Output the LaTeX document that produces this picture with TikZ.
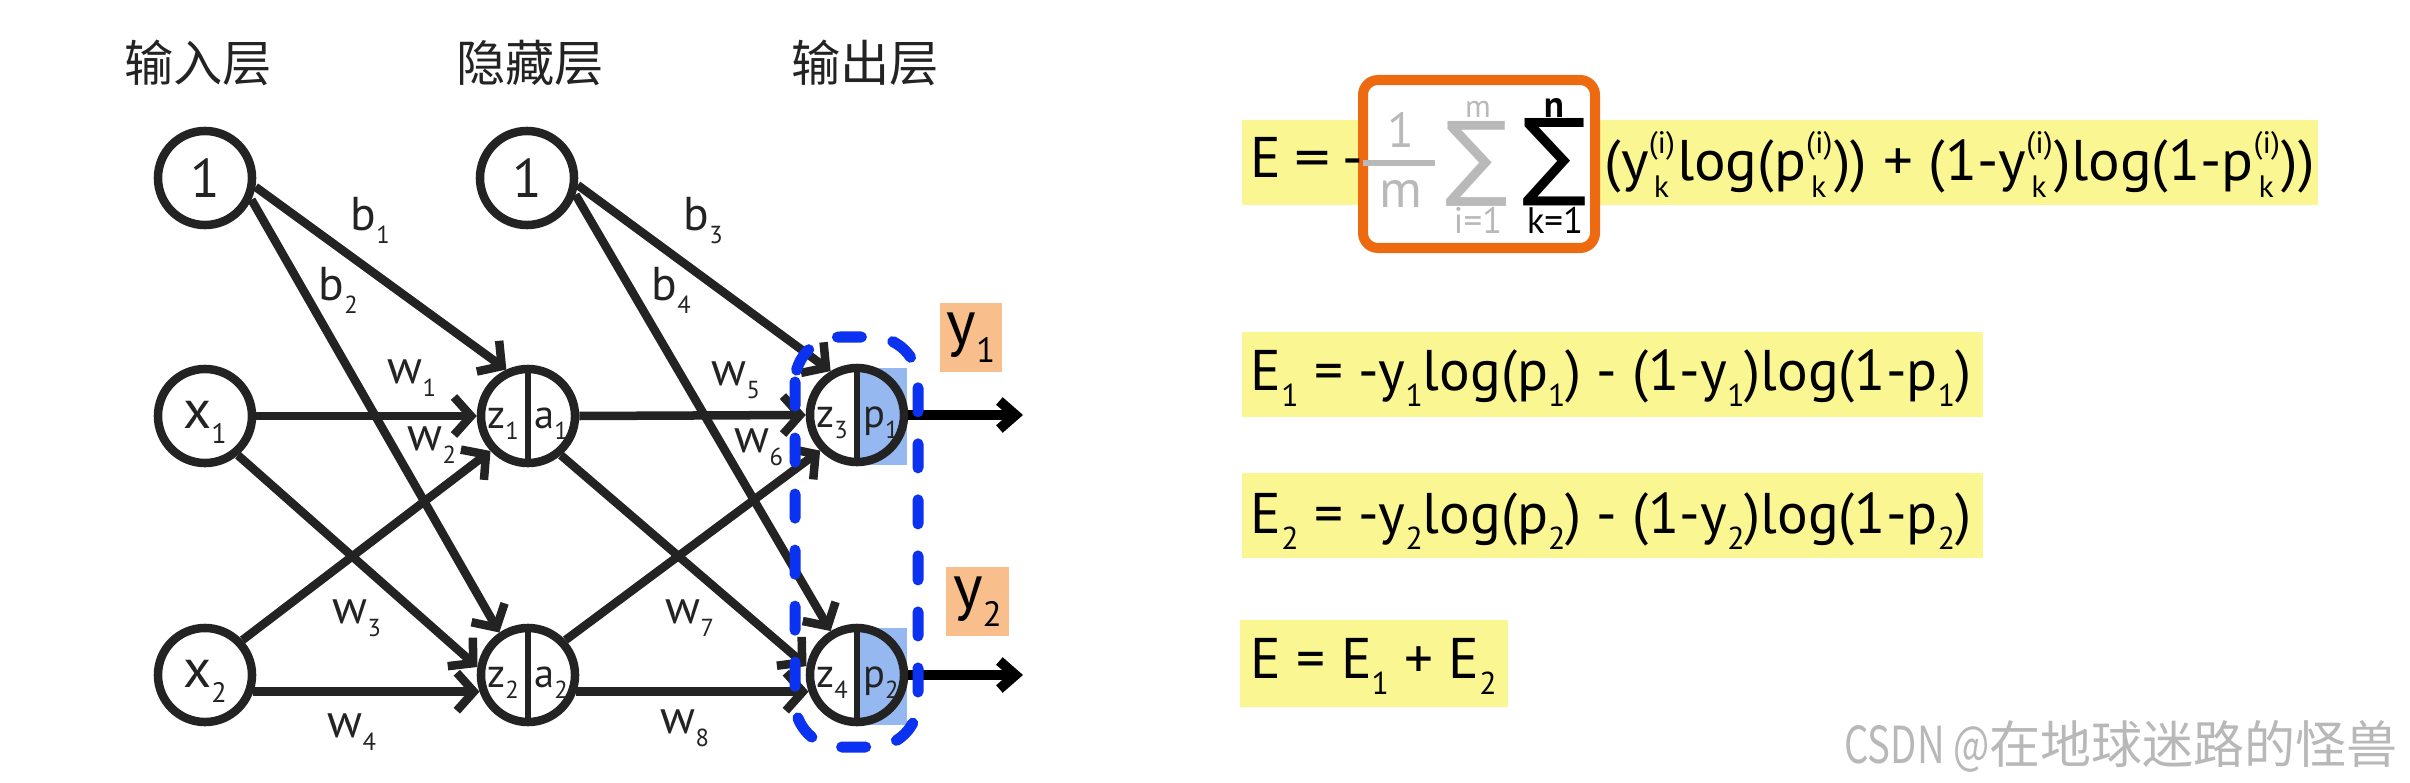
\documentclass[tikz,border=0pt]{standalone}
\usepackage{fontspec}
\setmainfont{PT Sans}
\newfontfamily\cjk{Noto Sans CJK SC}
\newfontfamily\djv{DejaVu Sans}
\usetikzlibrary{arrows.meta}
\definecolor{lc}{RGB}{35,35,35}
\definecolor{hl}{RGB}{250,246,145}
\definecolor{pblue}{RGB}{150,184,240}
\definecolor{dblue}{RGB}{10,50,240}
\definecolor{oran}{RGB}{238,106,16}
\definecolor{ylab}{RGB}{248,190,140}
\definecolor{lgray}{RGB}{185,185,185}
\newcommand{\fs}[1]{\fontsize{#1}{#1}\selectfont}
\newcommand{\el}[2]{{\fs{13.5}#1\raisebox{-3.8pt}{\fs{7}#2}}}
\newcommand{\nb}[2]{{\fs{15.5}#1\raisebox{-4.3pt}{\fs{8}#2}}}
\newcommand{\ns}[2]{{\fs{11.5}#1\raisebox{-3.4pt}{\fs{7}#2}}}
\newcommand{\es}[1]{\raisebox{-4.8pt}{\fs{9}#1}}
\newcommand{\ik}{\rlap{\raisebox{7.5pt}{\fs{8.8}(i)}}\raisebox{-5pt}{\fs{8.8}\hspace{1.4pt}k\hspace{2.2pt}}}
\newcommand{\yl}[1]{{\fs{18}y\raisebox{-5pt}{\fs{10}#1}}}
\tikzset{
  neuron/.style={circle, draw=lc, line width=0.85mm, minimum size=9.4mm, inner sep=0pt},
  conn/.style={draw=lc, line width=0.85mm, -{Straight Barb[length=1.7mm,width=3.8mm]}},
  outarrow/.style={draw=black, line width=1mm, -{Straight Barb[length=1.6mm,width=2.8mm]}},
  divider/.style={draw=lc, line width=0.6mm},
  txt/.style={inner sep=0pt, anchor=base, text=lc},
  hdr/.style={inner sep=0pt, text=lc, font=\cjk\fs{14}},
  ybox/.style={fill=ylab, inner sep=0pt, minimum width=6.2mm, minimum height=6.9mm},
  eq/.style={inner sep=0pt, anchor=base west, text=black, font=\fs{16.3}},
}
\begin{document}
\begin{tikzpicture}[x=0.01cm, y=-0.01cm]
\useasboundingbox[fill=white] (0,0) rectangle (2410,782);

% headers
\node[hdr] (t1) at (198,63) {输入层};
\node[hdr] (t2) at (530,63) {隐藏层};
\node[hdr] (t3) at (865,63) {输出层};

% output shading
\coordinate (o1c) at (857,415);
\coordinate (o2c) at (857,675);
\fill[pblue] ([shift={(0,-47)}]o1c) rectangle ([shift={(50,50)}]o1c);
\fill[pblue] ([shift={(0,-47)}]o2c) rectangle ([shift={(50,50)}]o2c);

% neurons
\node[neuron] (in1) at (205,178) {};
\node[neuron] (x1) at (205,416) {};
\node[neuron] (x2) at (205,675) {};
\node[neuron] (h0) at (527,178) {};
\node[neuron] (h1) at (528,416) {};
\node[neuron] (h2) at (528,675) {};
\node[neuron] (o1) at (o1c) {};
\node[neuron] (o2) at (o2c) {};
\draw[divider] (h1.north) -- (h1.south);
\draw[divider] (h2.north) -- (h2.south);
\draw[divider] (o1.north) -- (o1.south);
\draw[divider] (o2.north) -- (o2.south);

% neuron texts
\node[txt] (in1t) at (205,197) {\fs{15.5}1};
\node[txt] (h0t) at (527,197) {\fs{15.5}1};
\node[txt] (x1t) at (205,428) {\nb{x}{1}};
\node[txt] (x2t) at (205,687) {\nb{x}{2}};
\node[txt] (z1t) at (503,428) {\ns{z}{1}};
\node[txt] (a1t) at (551,428) {\ns{a}{1}};
\node[txt] (z2t) at (503,687) {\ns{z}{2}};
\node[txt] (a2t) at (551,687) {\ns{a}{2}};
\node[txt] (z3t) at (832,427) {\ns{z}{3}};
\node[txt] (p1t) at (881,427) {\ns{p}{1}};
\node[txt] (z4t) at (832,687) {\ns{z}{4}};
\node[txt] (p2t) at (881,687) {\ns{p}{2}};

% connections
\draw[conn] (in1.-10) -- (h1.115);
\draw[conn] (in1.-25) -- (h2.124);
\draw[conn] (x1.east) -- (h1.west);
\draw[conn] (x1.-50) -- (h2.171);
\draw[conn] (x2.43) -- (h1.223);
\draw[conn] (x2.-19) -- (h2.199);
\draw[conn] (h0.-8) -- (o1.121);
\draw[conn] (h0.-19) -- (o2.121);
\draw[conn] (h1.east) -- (o1.west);
\draw[conn] (h1.-50) -- (o2.170);
\draw[conn] (h2.43) -- (o1.224);
\draw[conn] (h2.-19) -- (o2.199);
\coordinate (out1) at (1023,415);
\coordinate (out2) at (1023,675);
\draw[outarrow] (o1.east) -- (out1);
\draw[outarrow] (o2.east) -- (out2);

% edge labels
\node[txt, anchor=base west] (lb1) at (350,230) {\el{b}{1}};
\node[txt, anchor=base west] (lb2) at (318,300) {\el{b}{2}};
\node[txt, anchor=base west] (lb3) at (683,230) {\el{b}{3}};
\node[txt, anchor=base west] (lb4) at (651,300) {\el{b}{4}};
\node[txt, anchor=base west] (lw1) at (387,383) {\el{w}{1}};
\node[txt, anchor=base west] (lw2) at (407,450) {\el{w}{2}};
\node[txt, anchor=base west] (lw3) at (332,623) {\el{w}{3}};
\node[txt, anchor=base west] (lw4) at (327,737) {\el{w}{4}};
\node[txt, anchor=base west] (lw5) at (711,385) {\el{w}{5}};
\node[txt, anchor=base west] (lw6) at (734,452) {\el{w}{6}};
\node[txt, anchor=base west] (lw7) at (665,623) {\el{w}{7}};
\node[txt, anchor=base west] (lw8) at (660,733) {\el{w}{8}};

% output labels
\node[ybox] (y1) at (971,337.5) {\yl{1}};
\node[ybox] (y2) at (977.5,601.5) {\yl{2}};

% dashed output group
\draw[dblue, line width=1.1mm, dash pattern=on 2.4mm off 3.2mm, line cap=round, rounded corners=4.5mm] (795,337) rectangle (918,747);

% ---------- equations ----------
\fill[hl] (1242,120) rectangle (2318,205);
\fill[hl] (1242,332) rectangle (1983,417);
\fill[hl] (1242,473) rectangle (1983,558);
\fill[hl] (1240,620) rectangle (1508,707);

\draw[oran, line width=1mm, fill=white, rounded corners=1.5mm] (1363,80) rectangle (1595,248);

\node[eq] (e0a) at (1250,178) {E\hspace{0.22em}\scalebox{1.25}[1]{=}\hspace{0.22em}-};
\node[txt, text=lgray] (fn) at (1401,147) {\fs{14}1};
\draw[lgray, line width=0.6mm] (1363,163) -- (1435,163);
\node[txt, text=lgray] (fd) at (1401,207) {\fs{15}m};
\node[inner sep=0pt, text=lgray] (s1) at (1477,163.5) {\resizebox{!}{6.7mm}{\djv ∑}};
\node[txt, text=lgray] (s1t) at (1478,117) {\fs{9}m};
\node[txt, text=lgray] (s1b) at (1478,233) {\fs{10.5}i=1};
\node[inner sep=0pt, text=black] (s2) at (1555,162.5) {\resizebox{!}{6.9mm}{\djv ∑}};
\node[txt, text=black] (s2t) at (1554,117) {\fs{10.5}\bfseries n};
\node[txt, text=black] (s2b) at (1555,233) {\fs{10.5}k=1};
\node[eq] (e0b) at (1604,180) {\scalebox{1.03}[1]{(y\ik log(p\ik)) + (1-y\ik)log(1-p\ik))}};

\node[eq] (e1) at (1250,390) {E\es{1} = -y\es{1}log(p\es{1}) - (1-y\es{1})log(1-p\es{1})};
\node[eq] (e2) at (1250,533) {E\es{2} = -y\es{2}log(p\es{2}) - (1-y\es{2})log(1-p\es{2})};
\node[eq] (e3) at (1250,678) {E = E\es{1} + E\es{2}};

% watermark
\node[inner sep=0pt, anchor=base east, text=black!28, font=\cjk\fs{14.5}] (wm) at (2398,763) {\scalebox{0.75}[1]{CSDN @}在地球迷路的怪兽};
\end{tikzpicture}
\end{document}
